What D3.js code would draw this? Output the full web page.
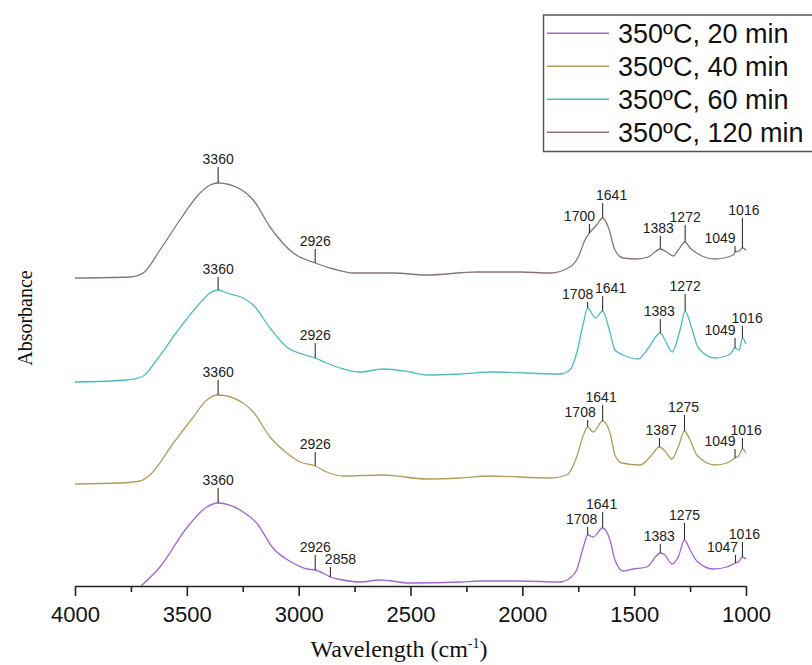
<!DOCTYPE html>
<html>
<head>
<meta charset="utf-8">
<script src="https://cdn.jsdelivr.net/npm/d3@7"></script>
<style>
  html, body { margin: 0; padding: 0; background: #fff; }
  svg { display: block; }
</style>
</head>
<body>
<svg id="chart" width="812" height="665"></svg>
<script>
// ---------- DATA ----------
const seriesNames = ["350ºC, 20 min", "350ºC, 40 min", "350ºC, 60 min", "350ºC, 120 min"];
const seriesColors = ["#a066d9", "#b39c5c", "#4fbcbc", "#8c7474"];

const xTicksMajor = [4000, 3500, 3000, 2500, 2000, 1500, 1000];
const xTicksMinor = [3750, 3250, 2750, 2250, 1750, 1250];

// [wavenumber, offset absorbance]
const spec20 = [
  [3705,0.00],[3620,0.19],[3501,0.58],[3411,0.79],[3360,0.83],[3248,0.74],[3188,0.63],
  [3115,0.38],[3025,0.23],[2964,0.17],[2926,0.16],[2875,0.11],[2858,0.09],[2802,0.06],
  [2726,0.04],[2636,0.06],[2502,0.03],[2279,0.04],[2189,0.05],[2010,0.05],[1832,0.04],
  [1787,0.08],[1757,0.16],[1727,0.39],[1708,0.51],[1683,0.49],[1641,0.58],[1608,0.46],
  [1586,0.26],[1549,0.15],[1504,0.17],[1444,0.19],[1383,0.33],[1362,0.31],[1332,0.22],
  [1303,0.29],[1275,0.46],[1250,0.36],[1220,0.25],[1146,0.17],[1086,0.19],[1047,0.23],
  [1034,0.24],[1016,0.29],[1000,0.27]
];
const spec40 = [
  [4000,1.02],[3799,1.03],[3709,1.05],[3665,1.11],[3560,1.43],[3471,1.69],[3411,1.86],
  [3360,1.91],[3248,1.83],[3203,1.74],[3128,1.49],[3053,1.33],[2994,1.24],[2926,1.20],
  [2875,1.14],[2800,1.10],[2622,1.11],[2428,1.07],[2279,1.08],[2145,1.10],[1876,1.08],
  [1802,1.11],[1757,1.29],[1727,1.51],[1708,1.59],[1683,1.54],[1641,1.65],[1608,1.53],
  [1586,1.31],[1556,1.23],[1474,1.21],[1429,1.29],[1387,1.39],[1362,1.35],[1332,1.27],
  [1303,1.39],[1275,1.55],[1250,1.46],[1220,1.31],[1138,1.21],[1086,1.23],[1049,1.28],
  [1033,1.30],[1016,1.37],[1000,1.33]
];
const spec60 = [
  [4000,2.04],[3769,2.06],[3695,2.10],[3635,2.26],[3545,2.54],[3441,2.83],[3396,2.93],
  [3360,2.96],[3322,2.93],[3248,2.88],[3203,2.81],[3128,2.58],[3053,2.39],[2926,2.28],
  [2875,2.23],[2800,2.17],[2726,2.14],[2622,2.17],[2502,2.14],[2428,2.11],[2279,2.12],
  [2130,2.14],[1832,2.12],[1787,2.16],[1757,2.33],[1727,2.63],[1708,2.78],[1673,2.68],
  [1641,2.75],[1611,2.56],[1586,2.36],[1549,2.31],[1482,2.27],[1437,2.38],[1383,2.53],
  [1362,2.46],[1330,2.34],[1295,2.56],[1272,2.75],[1243,2.58],[1213,2.38],[1138,2.28],
  [1071,2.32],[1049,2.38],[1030,2.36],[1016,2.48],[1000,2.42]
];
const spec120 = [
  [4000,3.08],[3754,3.09],[3695,3.13],[3620,3.36],[3531,3.66],[3441,3.93],[3396,4.01],
  [3360,4.03],[3262,3.97],[3203,3.86],[3128,3.59],[3024,3.33],[2926,3.23],[2845,3.17],
  [2756,3.13],[2577,3.13],[2428,3.11],[2204,3.14],[2010,3.14],[1876,3.13],[1787,3.19],
  [1750,3.29],[1720,3.46],[1700,3.53],[1668,3.61],[1641,3.68],[1616,3.59],[1586,3.36],
  [1549,3.28],[1489,3.27],[1437,3.29],[1383,3.37],[1355,3.34],[1325,3.30],[1303,3.36],
  [1272,3.44],[1250,3.38],[1206,3.31],[1138,3.27],[1057,3.31],[1049,3.34],[1030,3.35],
  [1016,3.38],[1000,3.36]
];

// peak annotations: [wavenumber, label, marker top level, label nudge]
const ann20 = [
  [3360,"3360",0.98,0],[2926,"2926",0.31,0],[2858,"2858",0.19,10],[1708,"1708",0.59,-6],
  [1641,"1641",0.74,-1],[1383,"1383",0.42,-1],[1275,"1275",0.63,0],[1047,"1047",0.31,-13],
  [1016,"1016",0.44,2]
];
const ann40 = [
  [3360,"3360",2.06,0],[2926,"2926",1.34,0],[1708,"1708",1.66,-7.5],[1641,"1641",1.81,-1.5],
  [1387,"1387",1.48,1.7],[1275,"1275",1.71,-1],[1049,"1049",1.37,-15],[1016,"1016",1.48,3.7]
];
const ann60 = [
  [3360,"3360",3.09,0],[2926,"2926",2.43,0],[1708,"1708",2.84,-10],[1641,"1641",2.90,8],
  [1383,"1383",2.67,-1],[1272,"1272",2.92,0],[1049,"1049",2.48,-15],[1016,"1016",2.60,4.7]
];
const ann120 = [
  [3360,"3360",4.19,0],[2926,"2926",3.37,0],[1700,"1700",3.62,-10],[1641,"1641",3.83,9],
  [1383,"1383",3.50,-2],[1272,"1272",3.61,0],[1049,"1049",3.40,-15],[1016,"1016",3.68,1.5]
];

const spectra = [spec20, spec40, spec60, spec120];
const annotations = [ann20, ann40, ann60, ann120];

// ---------- CHART ----------
const svg = d3.select("#chart");
const x = d3.scaleLinear().domain([4000, 1000]).range([75, 746]);
const y = d3.scaleLinear().domain([0, 5]).range([586, 86]);

const line = d3.line()
  .x(d => x(d[0]))
  .y(d => y(d[1]))
  .curve(d3.curveMonotoneX);

function valueAt(spec, wn) {
  const s = spec.slice().sort((a, b) => a[0] - b[0]);
  for (let i = 0; i < s.length - 1; i++) {
    if (wn >= s[i][0] && wn <= s[i + 1][0]) {
      const t = (wn - s[i][0]) / (s[i + 1][0] - s[i][0]);
      return s[i][1] + t * (s[i + 1][1] - s[i][1]);
    }
  }
  return s[s.length - 1][1];
}

// spectra
const g = svg.append("g");
spectra.forEach((spec, i) => {
  const data = spec.slice().sort((a, b) => b[0] - a[0]);
  g.append("path")
    .datum(data)
    .attr("fill", "none")
    .attr("stroke", seriesColors[i])
    .attr("stroke-width", 1.3)
    .attr("d", line);
});

// annotations
spectra.forEach((spec, i) => {
  const ag = svg.append("g");
  annotations[i].forEach(a => {
    const [wn, label, top, nudge] = a;
    const px = x(wn);
    ag.append("line")
      .attr("x1", px).attr("x2", px)
      .attr("y1", y(top)).attr("y2", y(valueAt(spec, wn)))
      .attr("stroke", "#333").attr("stroke-width", 1.1);
    ag.append("text")
      .attr("x", px + nudge)
      .attr("y", y(top) - 3)
      .attr("text-anchor", "middle")
      .attr("font-family", "'Liberation Sans', Arial, sans-serif")
      .attr("font-size", 14)
      .attr("fill", "#222")
      .text(label);
  });
});

// x axis
const axisG = svg.append("g").attr("transform", `translate(0,${y(0)})`);
axisG.call(d3.axisBottom(x).tickValues(xTicksMajor).tickSize(10).tickSizeOuter(0).tickFormat(d3.format("d")));
axisG.select(".domain").attr("stroke", "#222").attr("stroke-width", 1.6);
axisG.selectAll(".tick line").attr("stroke", "#222").attr("stroke-width", 1.6);
axisG.selectAll(".tick text")
  .attr("font-family", "'Liberation Sans', Arial, sans-serif")
  .attr("font-size", 22)
  .attr("fill", "#111")
  .attr("dy", null)
  .attr("y", 35.5);

const minorG = svg.append("g").attr("transform", `translate(0,${y(0)})`);
minorG.call(d3.axisBottom(x).tickValues(xTicksMinor).tickSize(6).tickSizeOuter(0).tickFormat(""));
minorG.select(".domain").remove();
minorG.selectAll(".tick line").attr("stroke", "#222").attr("stroke-width", 1.6);

// axis titles
const xt = svg.append("text")
  .attr("x", 399).attr("y", 657)
  .attr("text-anchor", "middle")
  .attr("font-family", "'Liberation Serif', 'Times New Roman', serif")
  .attr("font-size", 24)
  .attr("fill", "#111");
xt.append("tspan").text("Wavelength (cm");
xt.append("tspan").attr("font-size", 14).attr("dy", -9).text("-1");
xt.append("tspan").attr("dy", 9).text(")");

svg.append("text")
  .attr("transform", "translate(32,318) rotate(-90)")
  .attr("text-anchor", "middle")
  .attr("font-family", "'Liberation Serif', 'Times New Roman', serif")
  .attr("font-size", 20)
  .attr("fill", "#111")
  .text("Absorbance");

// legend
const lg = svg.append("g");
lg.append("rect")
  .attr("x", 543.5).attr("y", 15)
  .attr("width", 300).attr("height", 136.5)
  .attr("fill", "#fff")
  .attr("stroke", "#555").attr("stroke-width", 1.5);
seriesNames.forEach((name, i) => {
  const ly = 33.3 + i * 33;
  lg.append("line")
    .attr("x1", 547).attr("x2", 609)
    .attr("y1", ly).attr("y2", ly)
    .attr("stroke", seriesColors[i]).attr("stroke-width", 1.5);
  lg.append("text")
    .attr("x", 618).attr("y", ly + 9.5)
    .attr("font-family", "'Liberation Sans', Arial, sans-serif")
    .attr("font-size", 27)
    .attr("fill", "#111")
    .text(name);
});
</script>
</body>
</html>
